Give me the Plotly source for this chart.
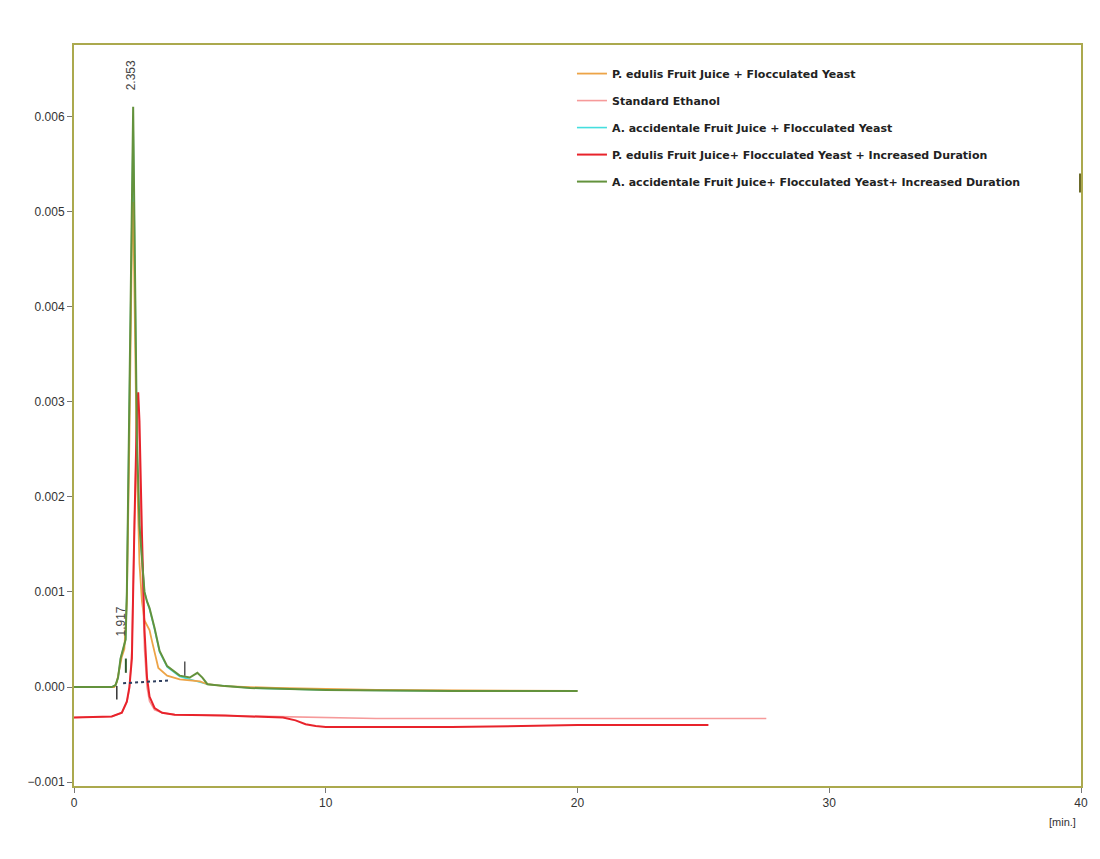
import plotly.graph_objects as go

# ---------------- data ----------------
names = [
    "P. edulis Fruit Juice + Flocculated Yeast",
    "Standard Ethanol",
    "A. accidentale Fruit Juice + Flocculated Yeast",
    "P. edulis Fruit Juice+ Flocculated Yeast + Increased Duration",
    "A. accidentale Fruit Juice+ Flocculated Yeast+ Increased Duration",
]

orange_x = [0, 1.6, 1.7, 1.8, 1.9, 2.0, 2.1, 2.2, 2.3, 2.35, 2.4, 2.45, 2.5, 2.6, 2.7,
            2.8, 2.9, 3.0, 3.1, 3.35, 3.7, 4.2, 5.0, 5.3, 6, 8, 12, 20]
orange_y = [0, 0, 0.00005, 0.0002, 0.00032, 0.0004, 0.0009, 0.0026, 0.0047, 0.0051, 0.0043,
            0.0032, 0.0023, 0.0013, 0.0009, 0.0007, 0.00065, 0.0006, 0.00048, 0.0002,
            0.00012, 0.00008, 0.00006, 0.00003, 0.00001, -0.00001, -0.00003, -0.00004]

ethanol_x = [0, 1.5, 1.9, 2.1, 2.2, 2.3, 2.4, 2.5, 2.55, 2.6, 2.7, 2.8, 2.9, 3.0, 3.2,
             3.5, 4.0, 6.0, 8.5, 12, 18, 24, 27.5]
ethanol_y = [-0.00032, -0.00031, -0.00027, -0.00016, -0.00002, 0.0004, 0.0017, 0.0028, 0.0029,
             0.0025, 0.0013, 0.0004, 0.0, -0.00015, -0.00024, -0.00027, -0.00029, -0.0003,
             -0.00031, -0.00033, -0.00033, -0.00033, -0.00033]

cyan_x = [0, 1.5, 1.65, 1.75, 1.85, 1.95, 2.05, 2.1, 2.2, 2.3, 2.35, 2.4, 2.45, 2.5,
          2.6, 2.7, 2.8, 2.9, 3.0, 3.2, 3.4, 3.7, 4.2, 5.3, 7.0, 10, 15, 20]
cyan_y = [0, 0, 0.00002, 0.0001, 0.0003, 0.0004, 0.0005, 0.001, 0.0031, 0.0054, 0.0059,
          0.0048, 0.0035, 0.0025, 0.0017, 0.0013, 0.001, 0.0009, 0.00082, 0.00061,
          0.00037, 0.00021, 0.00011, 0.00003, -0.00001, -0.00003, -0.00004, -0.00004]

red_x = [0, 1.5, 1.9, 2.1, 2.2, 2.3, 2.4, 2.5, 2.55, 2.6, 2.7, 2.8, 2.9, 3.0, 3.2,
         3.5, 4.0, 6.0, 8.3, 8.8, 9.2, 9.6, 10.0, 15, 20, 25.2]
red_y = [-0.00032, -0.00031, -0.00027, -0.00015, 0.0, 0.0003, 0.0017, 0.0029, 0.0031,
         0.0028, 0.0016, 0.0006, 0.0001, -0.0001, -0.00022, -0.00027, -0.00029, -0.0003,
         -0.00032, -0.00035, -0.00039, -0.00041, -0.00042, -0.00042, -0.0004, -0.0004]

green_x = [0, 1.5, 1.65, 1.75, 1.85, 1.95, 2.05, 2.1, 2.2, 2.3, 2.35, 2.4, 2.45, 2.5,
           2.6, 2.7, 2.8, 2.9, 3.0, 3.2, 3.4, 3.7, 4.2, 4.6, 4.9, 5.1, 5.3, 6.0, 7.0,
           10, 15, 20]
green_y = [0, 0, 0.00002, 0.0001, 0.0003, 0.0004, 0.0005, 0.001, 0.0032, 0.0056, 0.0061,
           0.0049, 0.0036, 0.0026, 0.0017, 0.0013, 0.001, 0.0009, 0.00083, 0.00062,
           0.00038, 0.00022, 0.00012, 0.0001, 0.00015, 0.0001, 0.00003, 0.00001,
           -0.00001, -0.00003, -0.00004, -0.00004]

peak_labels = ["2.353", "1.917"]
peak_label_x = [2.3, 1.87]
peak_label_y = [0.00643, 0.00069]

x_ticks = [0, 10, 20, 30, 40]
y_ticks = [-0.001, 0.0, 0.001, 0.002, 0.003, 0.004, 0.005, 0.006]

# ---------------- styling ----------------
FRAME = "#aba94e"
colors = ["#eda447", "#f69a9a", "#45dede", "#e8232b", "#63923c"]
widths = [1.8, 1.6, 1.6, 2.0, 2.0]

series = [
    (orange_x, orange_y),
    (ethanol_x, ethanol_y),
    (cyan_x, cyan_y),
    (red_x, red_y),
    (green_x, green_y),
]
draw_order = [2, 0, 1, 3, 4]

fig = go.Figure()
for i in draw_order:
    xs, ys = series[i]
    fig.add_trace(go.Scatter(
        x=xs, y=ys, mode="lines", name=names[i],
        line=dict(color=colors[i], width=widths[i]),
        legendrank=i + 1, legendgroup=f"g{i}",
    ))

# peak labels
for t, px, py in zip(peak_labels, peak_label_x, peak_label_y):
    fig.add_annotation(x=px, y=py, text=t, textangle=-90, showarrow=False,
                       font=dict(family="Liberation Sans", size=12, color="#444"))

# integration baseline and peak markers
fig.add_shape(type="line", x0=1.95, y0=0.00004, x1=3.8, y1=0.00007,
              line=dict(color="#2f3f5f", width=2, dash="dot"))
fig.add_shape(type="line", x0=1.7, y0=0.00001, x1=1.7, y1=-0.00013,
              line=dict(color="#333", width=1.5))
fig.add_shape(type="line", x0=2.06, y0=0.0003, x1=2.06, y1=0.00015,
              line=dict(color="#2e5a2e", width=2))
fig.add_shape(type="line", x0=4.4, y0=0.00027, x1=4.4, y1=0.00012,
              line=dict(color="#555", width=1.5))
fig.add_shape(type="line", x0=40, y0=0.0052, x1=40, y1=0.0054,
              line=dict(color="#6b6a2a", width=4))

fig.add_annotation(xref="paper", yref="paper", x=0.997, y=-0.059, text="[min.]",
                   showarrow=False,
                   font=dict(family="Liberation Sans Narrow, Liberation Sans", size=11, color="#333"))

fig.update_layout(
    width=1100, height=859,
    margin=dict(l=74, r=19, t=45, b=73),
    paper_bgcolor="white", plot_bgcolor="white",
    showlegend=True,
    legend=dict(x=0.4945, y=0.981, xanchor="left", yanchor="top",
                bgcolor="rgba(0,0,0,0)", tracegroupgap=8,
                font=dict(family="DejaVu Sans", size=11, color="#222", weight="bold")),
    xaxis=dict(range=[0, 40], tickvals=x_ticks, ticks="outside", ticklen=5,
               tickcolor="#777", showgrid=False, zeroline=False,
               showline=True, linecolor=FRAME, linewidth=2, mirror=True,
               tickfont=dict(family="Liberation Sans Narrow, Liberation Sans", size=12, color="#333")),
    yaxis=dict(range=[-0.00104, 0.00675], tickvals=y_ticks, tickformat=".3f",
               ticks="outside", ticklen=5, tickcolor="#777", showgrid=False,
               zeroline=False, showline=True, linecolor=FRAME, linewidth=2, mirror=True,
               tickfont=dict(family="Liberation Sans Narrow, Liberation Sans", size=12, color="#333")),
)

fig.write_html("out.html")
